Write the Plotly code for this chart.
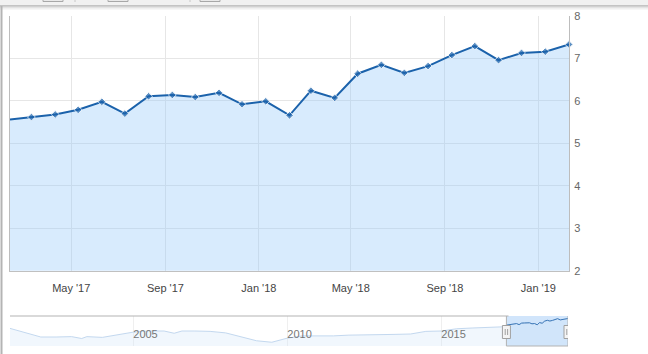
import plotly.graph_objects as go

# ---------------- data ----------------
dates = ["2017-02-10", "2017-03-10", "2017-04-10", "2017-05-10", "2017-06-10", "2017-07-10",
         "2017-08-10", "2017-09-10", "2017-10-10", "2017-11-10", "2017-12-10", "2018-01-10",
         "2018-02-10", "2018-03-10", "2018-04-10", "2018-05-10", "2018-06-10", "2018-07-10",
         "2018-08-10", "2018-09-10", "2018-10-10", "2018-11-10", "2018-12-10", "2019-01-10",
         "2019-02-10"]
values = [5.56, 5.62, 5.68, 5.79, 5.98, 5.70, 6.11, 6.14, 6.09, 6.19, 5.92, 5.99,
          5.66, 6.24, 6.07, 6.64, 6.85, 6.66, 6.82, 7.08, 7.29, 6.96, 7.13, 7.16, 7.33]

tick_dates = ["2017-05-01", "2017-09-01", "2018-01-01", "2018-05-01", "2018-09-01", "2019-01-01"]
tick_labels = ["May '17", "Sep '17", "Jan '18", "May '18", "Sep '18", "Jan '19"]

y_ticks = [2, 3, 4, 5, 6, 7, 8]

# navigator history (before the selected range)
nav_hist_dates = ["2001-01-01", "2001-07-01", "2002-01-01", "2002-07-01", "2003-01-01", "2003-05-01",
                  "2003-07-01", "2004-01-01", "2004-07-01", "2005-01-01", "2005-07-01", "2006-01-01",
                  "2006-05-01", "2006-08-01", "2007-01-01", "2007-07-01", "2008-01-01", "2008-07-01",
                  "2009-01-01", "2009-07-01", "2010-01-01", "2010-07-01", "2011-01-01", "2011-07-01",
                  "2012-01-01", "2012-07-01", "2013-01-01", "2013-07-01", "2014-01-01", "2014-07-01",
                  "2015-01-01", "2015-07-01", "2016-01-01", "2016-07-01", "2016-12-10"]
nav_hist_values = [4.7, 3.5, 2.4, 2.4, 2.5, 2.0,
                   2.5, 2.3, 2.9, 3.7, 4.0, 4.0,
                   3.4, 4.0, 4.0, 3.9, 3.5, 2.4,
                   1.4, 1.0, 2.1, 2.7, 2.6, 2.7,
                   2.9, 2.9, 3.0, 3.1, 3.2, 3.9,
                   4.0, 4.6, 4.8, 4.9, 5.1]
nav_tick_dates = ["2005-01-01", "2010-01-01", "2015-01-01"]
nav_tick_labels = ["2005", "2010", "2015"]

# ---------------- layout geometry ----------------
W, H = 648, 354
ML, MR, MT, MB = 10, 79, 16, 8
PW, PH = W - ML - MR, H - MT - MB


def px(x):
    return (x - ML) / PW


def py(y):
    return (H - MB - y) / PH


LINE = "#1b62ab"
FILL = "rgba(150,200,250,0.37)"
FONT = "Liberation Sans, Arial, sans-serif"

fig = go.Figure()

# main series
sizes = [0] + [6] * (len(values) - 1)
fig.add_trace(go.Scatter(
    x=dates, y=values, mode="lines+markers", fill="tozeroy", fillcolor=FILL,
    line=dict(color=LINE, width=2), marker=dict(symbol="diamond", size=sizes, color=LINE),
    cliponaxis=False, xaxis="x", yaxis="y", hoverinfo="x+y", showlegend=False))

# navigator series (full history, light)
nav_dates = nav_hist_dates + dates
nav_values = nav_hist_values + values
fig.add_trace(go.Scatter(
    x=nav_dates, y=nav_values, mode="lines", fill="tozeroy", fillcolor="rgba(210,228,248,0.3)",
    line=dict(color="#c3d8ef", width=1), xaxis="x2", yaxis="y2", hoverinfo="skip", showlegend=False))
# navigator selected part (darker)
fig.add_trace(go.Scatter(
    x=dates, y=values, mode="lines",
    line=dict(color="#3b78b9", width=1), xaxis="x2", yaxis="y2", hoverinfo="skip", showlegend=False))

sel0, sel1 = dates[0], dates[-1]
dom_main0 = py(270.7)
dom_nav1 = py(316)

shapes = []
# selection mask
shapes.append(dict(type="rect", xref="x2", yref="paper", x0=sel0, x1=sel1, y0=0, y1=dom_nav1,
                   fillcolor="rgba(140,190,245,0.40)", line=dict(width=0), layer="below"))
# navigator outline
outline = "#b3b3b3"
shapes.append(dict(type="line", xref="paper", yref="paper", x0=0, x1=px(508.5), y0=dom_nav1, y1=dom_nav1,
                   line=dict(color=outline, width=1)))
shapes.append(dict(type="line", xref="x2", yref="paper", x0=sel0, x1=sel0, y0=0, y1=dom_nav1,
                   line=dict(color=outline, width=1)))
shapes.append(dict(type="line", xref="x2", yref="paper", x0=sel1, x1=sel1, y0=0, y1=dom_nav1,
                   line=dict(color=outline, width=1)))
shapes.append(dict(type="line", xref="x2", yref="paper", x0=sel0, x1=sel1, y0=0, y1=0,
                   line=dict(color=outline, width=1)))
# handles
for d in (sel0, sel1):
    shapes.append(dict(type="rect", xref="x2", yref="paper", xsizemode="pixel", xanchor=d,
                       x0=-4, x1=4, y0=py(338.5), y1=py(325.5),
                       fillcolor="#f4f4f4", line=dict(color="#a0a0a0", width=1)))
    for dx in (-1.2, 1.2):
        shapes.append(dict(type="line", xref="x2", yref="paper", xsizemode="pixel", xanchor=d,
                           x0=dx, x1=dx, y0=py(335), y1=py(329),
                           line=dict(color="#a0a0a0", width=1)))

# top toolbar band
shapes.append(dict(type="rect", xref="paper", yref="paper", x0=px(-5), x1=px(660), y0=py(5.5), y1=py(-2),
                   fillcolor="#f1f1f1", line=dict(width=0)))
for i, a in enumerate([0.18, 0.11, 0.06, 0.03]):
    shapes.append(dict(type="rect", xref="paper", yref="paper", x0=px(-5), x1=px(660),
                       y0=py(7 + i), y1=py(6 + i), fillcolor="rgba(0,0,0,%g)" % a, line=dict(width=0)))
shapes.append(dict(type="line", xref="paper", yref="paper", x0=px(-5), x1=px(660), y0=py(5.5), y1=py(5.5),
                   line=dict(color="#c4c4c4", width=1)))
for x0, x1 in [(43, 63), (108, 128), (200, 220)]:
    shapes.append(dict(type="rect", xref="paper", yref="paper", x0=px(x0), x1=px(x1), y0=py(1.5), y1=py(-4),
                       fillcolor="#e9e9e9", line=dict(color="#a8a8a8", width=1)))
for xs in (75, 190):
    shapes.append(dict(type="line", xref="paper", yref="paper", x0=px(xs), x1=px(xs), y0=py(2), y1=py(0),
                       line=dict(color="#c8c8c8", width=1)))
# left page border
shapes.append(dict(type="line", xref="paper", yref="paper", x0=px(1.5), x1=px(1.5), y0=py(356), y1=py(6),
                   line=dict(color="#b4b4b4", width=2)))

fig.update_layout(
    width=W, height=H, margin=dict(l=ML, r=MR, t=MT, b=MB, autoexpand=False),
    paper_bgcolor="white", plot_bgcolor="white",
    font=dict(family=FONT, size=11, color="#555555"),
    showlegend=False,
    xaxis=dict(domain=[0, 1], anchor="y", type="date", range=[sel0, sel1], automargin=False,
               tickvals=tick_dates, ticktext=tick_labels, showgrid=True, gridcolor="#e6e6e6",
               showline=True, linecolor="#c0c0c0", linewidth=1, zeroline=False,
               ticks="", ticklabelstandoff=7, tickfont=dict(size=11, color="#444444")),
    yaxis=dict(domain=[dom_main0, 1], anchor="x", side="right", range=[2, 8], automargin=False,
               tickvals=y_ticks, showgrid=True, gridcolor="#e6e6e6", zeroline=False,
               showline=True, mirror=True, linecolor="#bdbdbd", linewidth=1,
               ticks="", ticklabelstandoff=2, tickfont=dict(size=11, color="#666666")),
    xaxis2=dict(domain=[0, px(568)], anchor="y2", type="date", range=[nav_dates[0], sel1], automargin=False,
                tickvals=nav_tick_dates, ticktext=nav_tick_labels, showgrid=True, gridcolor="#efefef",
                showline=False, zeroline=False, ticks="", ticklabelposition="inside right",
                tickfont=dict(size=11, color="#777777")),
    yaxis2=dict(domain=[0, dom_nav1], anchor="x2", range=[0, 8], showgrid=False, zeroline=False,
                automargin=False, showticklabels=False, showline=False),
    shapes=shapes,
)

fig.write_html("out.html")
